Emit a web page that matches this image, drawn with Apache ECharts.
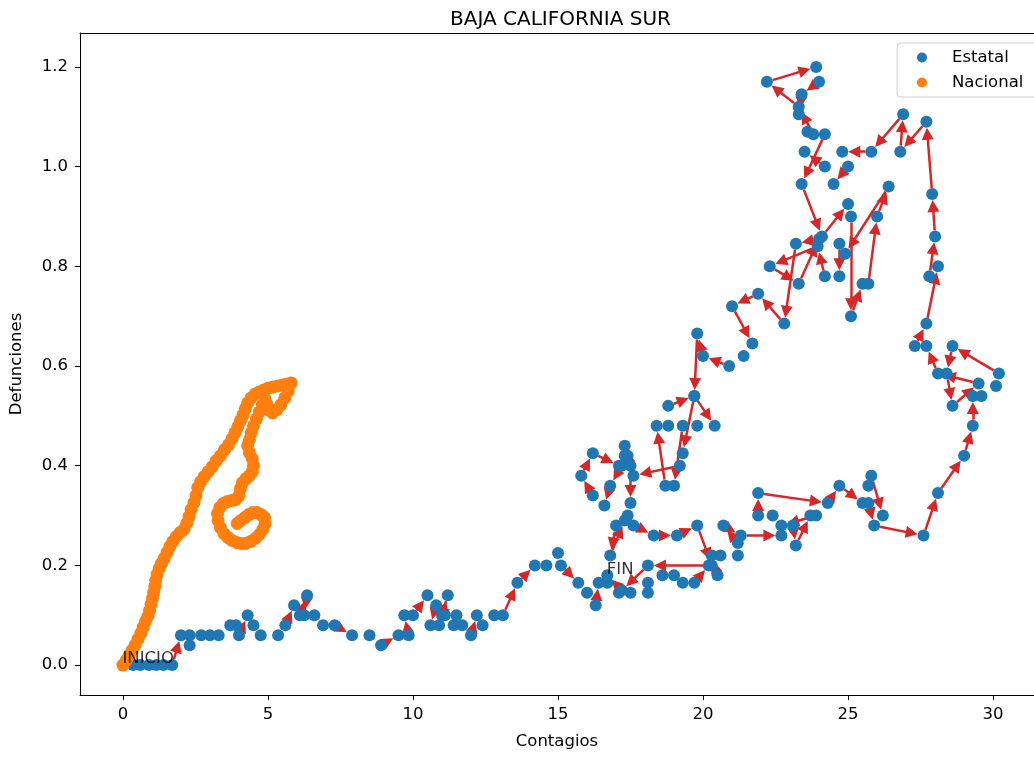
<!DOCTYPE html>
<html>
<head>
<meta charset="utf-8">
<script src="https://cdn.jsdelivr.net/npm/echarts@6/dist/echarts.min.js"></script>
<style>
  html, body { margin: 0; padding: 0; background: #fff; }
  #chart { width: 1034px; height: 757px; }
</style>
</head>
<body>
<div id="chart"></div>
<script>
// trayectoria estatal (contagios, defunciones), en orden de tiempo
const estatal = [
  [0, 0], [0.35, 0], [0.6, 0], [0.9, 0], [1.15, 0], [1.4, 0], [1.7, 0],
  [2.0, 0.06], [2.3, 0.04], [2.3, 0.06], [2.7, 0.06], [3.0, 0.06], [3.3, 0.06], [3.7, 0.08], [3.9, 0.08],
  [4.0, 0.06], [4.3, 0.1], [4.5, 0.08], [4.75, 0.06], [5.35, 0.06], [5.6, 0.08], [5.9, 0.12], [6.1, 0.1],
  [6.35, 0.14], [6.25, 0.1], [6.6, 0.1], [6.9, 0.08], [7.3, 0.08], [7.9, 0.06], [8.5, 0.06], [8.9, 0.04],
  [9.5, 0.06], [9.85, 0.06], [9.7, 0.1], [10.0, 0.1], [10.5, 0.14], [10.8, 0.12], [10.6, 0.08], [11.0, 0.1],
  [11.2, 0.14], [10.9, 0.08], [11.1, 0.1], [11.4, 0.08], [11.5, 0.1], [11.7, 0.08], [12.0, 0.06], [12.2, 0.1],
  [12.4, 0.08], [12.8, 0.1], [13.1, 0.1], [13.6, 0.165], [14.2, 0.2], [14.6, 0.2], [15.0, 0.225], [15.1, 0.2],
  [15.7, 0.165], [16.0, 0.145], [16.3, 0.12], [16.4, 0.165], [16.7, 0.165], [17.1, 0.145], [17.5, 0.145],
  [18.1, 0.145], [18.1, 0.165], [18.6, 0.18], [19.0, 0.18], [19.3, 0.165], [19.7, 0.165], [20.2, 0.2],
  [20.5, 0.18], [20.3, 0.22], [20.6, 0.22], [21.2, 0.22], [21.2, 0.245], [20.7, 0.28], [21.3, 0.26],
  [22.7, 0.26], [23.1, 0.28], [23.2, 0.24], [23.7, 0.3], [23.9, 0.3], [22.7, 0.28], [22.4, 0.3], [21.9, 0.3],
  [21.9, 0.345], [24.3, 0.325], [24.7, 0.36], [25.5, 0.325], [25.7, 0.36], [25.8, 0.38], [26.2, 0.3],
  [25.7, 0.325], [25.9, 0.28], [27.6, 0.26], [28.1, 0.345], [29.0, 0.42], [29.3, 0.48], [29.3, 0.54],
  [29.6, 0.54], [30.1, 0.56], [30.2, 0.585], [28.6, 0.64], [28.4, 0.585], [28.6, 0.52], [29.5, 0.565],
  [28.1, 0.585], [27.7, 0.64], [27.3, 0.64], [27.7, 0.685], [28.1, 0.8], [27.8, 0.78], [28.0, 0.86],
  [27.9, 0.945], [27.7, 1.09], [26.8, 1.03], [26.9, 1.105], [25.8, 1.03], [24.8, 1.03], [25.0, 1.0],
  [24.5, 0.965], [24.2, 1.0], [23.5, 1.03], [23.8, 1.065], [23.3, 1.12], [22.2, 1.17], [23.9, 1.2],
  [24.0, 1.17], [23.4, 1.145], [23.3, 1.105], [23.6, 1.07], [24.2, 1.065], [23.4, 0.965], [24.1, 0.86],
  [25.0, 0.925], [25.1, 0.9], [25.1, 0.7], [25.5, 0.765], [25.7, 0.765], [26.0, 0.9], [26.4, 0.96],
  [24.9, 0.825], [24.7, 0.845], [24.7, 0.78], [24.2, 0.78], [23.95, 0.84], [22.3, 0.8], [23.3, 0.765],
  [24.0, 0.855], [23.2, 0.845], [22.8, 0.685], [21.9, 0.745], [21.0, 0.72], [21.7, 0.645], [21.4, 0.62],
  [20.9, 0.6], [20.0, 0.62], [19.8, 0.665], [19.7, 0.54], [20.4, 0.48], [19.8, 0.48], [19.3, 0.48],
  [19.0, 0.36], [18.7, 0.36], [18.4, 0.48], [18.8, 0.48], [18.8, 0.52], [19.7, 0.54], [19.3, 0.425],
  [19.2, 0.4], [17.6, 0.38], [17.3, 0.44], [17.4, 0.42], [17.2, 0.4], [16.8, 0.36], [16.6, 0.32],
  [16.2, 0.34], [15.8, 0.38], [16.2, 0.425], [17.1, 0.4], [17.3, 0.42], [17.5, 0.4], [17.5, 0.325],
  [17.4, 0.3], [17.6, 0.28], [17.0, 0.28], [16.8, 0.22], [17.3, 0.29], [18.3, 0.26], [19.1, 0.26],
  [19.8, 0.28], [20.3, 0.2], [18.1, 0.2], [17.2, 0.15], [16.7, 0.18]
];

// trayectoria nacional
const nacional = [
  [0.00, 0.000], [0.12, 0.010], [0.22, 0.020], [0.32, 0.030], [0.42, 0.040], [0.52, 0.052], [0.62, 0.064],
  [0.70, 0.076], [0.78, 0.088], [0.86, 0.098], [0.92, 0.110], [0.97, 0.122], [1.02, 0.134], [1.06, 0.146],
  [1.10, 0.158], [1.13, 0.170], [1.18, 0.182], [1.25, 0.194], [1.33, 0.204], [1.42, 0.214], [1.52, 0.226],
  [1.62, 0.238], [1.72, 0.248], [1.84, 0.258], [1.97, 0.266], [2.10, 0.272], [2.20, 0.284], [2.28, 0.298],
  [2.35, 0.312], [2.45, 0.326], [2.52, 0.340], [2.58, 0.356], [2.68, 0.368], [2.80, 0.378], [2.94, 0.388],
  [3.08, 0.398], [3.22, 0.410], [3.36, 0.420], [3.50, 0.432], [3.64, 0.442], [3.76, 0.454], [3.86, 0.466],
  [3.96, 0.478], [4.05, 0.490], [4.14, 0.502], [4.22, 0.514], [4.30, 0.526], [4.42, 0.536], [4.56, 0.544],
  [4.70, 0.548], [4.86, 0.552], [5.02, 0.556], [5.18, 0.558], [5.34, 0.560], [5.50, 0.562], [5.66, 0.564],
  [5.80, 0.566], [5.70, 0.550], [5.58, 0.536], [5.44, 0.522], [5.30, 0.512], [5.16, 0.506], [5.02, 0.512],
  [4.96, 0.524], [4.90, 0.534], [4.80, 0.522], [4.70, 0.508], [4.60, 0.494], [4.50, 0.480], [4.42, 0.466],
  [4.36, 0.452], [4.30, 0.440], [4.36, 0.426], [4.46, 0.414], [4.50, 0.400], [4.46, 0.388], [4.36, 0.380],
  [4.24, 0.374], [4.12, 0.366], [4.05, 0.354], [4.00, 0.340], [3.88, 0.332], [3.74, 0.330], [3.60, 0.328],
  [3.46, 0.324], [3.34, 0.316], [3.26, 0.304], [3.28, 0.290], [3.36, 0.276], [3.48, 0.264], [3.62, 0.256],
  [3.76, 0.250], [3.92, 0.246], [4.08, 0.244], [4.24, 0.244], [4.40, 0.248], [4.56, 0.254], [4.70, 0.262],
  [4.82, 0.272], [4.90, 0.284], [4.88, 0.296], [4.76, 0.302], [4.62, 0.306], [4.48, 0.306], [4.34, 0.302],
  [4.20, 0.296], [4.06, 0.290], [3.94, 0.284]
];

const xTicks = [0, 5, 10, 15, 20, 25, 30];
const yTicks = [0, 0.2, 0.4, 0.6, 0.8, 1.0, 1.2];

const FONT = 'DejaVu Sans';
const chart = echarts.init(document.getElementById('chart'));

chart.setOption({
  animation: false,
  backgroundColor: '#fff',
  title: {
    text: 'BAJA CALIFORNIA SUR',
    left: 445,
    top: 5,
    textStyle: { fontFamily: FONT, fontSize: 20, fontWeight: 'normal', color: '#000' }
  },
  legend: {
    data: ['Estatal', 'Nacional'],
    orient: 'vertical',
    left: 897,
    top: 43,
    icon: 'circle',
    itemWidth: 10,
    itemHeight: 10,
    itemGap: 8,
    padding: [6, 20, 6, 20],
    borderColor: '#d0d0d0',
    borderWidth: 1,
    borderRadius: 4,
    backgroundColor: '#fff',
    textStyle: { fontFamily: FONT, fontSize: 16.5, color: '#000', padding: [0, 0, 0, 20] }
  },
  grid: {
    left: 77,
    right: 0,
    top: 33,
    bottom: 62
  },
  xAxis: [
    {
      type: 'value',
      min: -1.48,
      max: 31.41,
      name: 'Contagios',
      nameLocation: 'middle',
      nameGap: 38,
      nameTextStyle: { fontFamily: FONT, fontSize: 16.5, color: '#000' },
      axisLine: { show: true, onZero: false, lineStyle: { color: '#000', width: 1 } },
      axisTick: { show: true, length: 5, customValues: xTicks, lineStyle: { color: '#000' } },
      axisLabel: { customValues: xTicks, fontFamily: FONT, fontSize: 16.5, color: '#000', margin: 11 },
      splitLine: { show: false }
    },
    {
      // borde superior del área de trazado
      type: 'value',
      position: 'top',
      min: -1.48,
      max: 31.41,
      axisLine: { show: true, onZero: false, lineStyle: { color: '#000', width: 1 } },
      axisTick: { show: false },
      axisLabel: { show: false },
      splitLine: { show: false }
    }
  ],
  yAxis: {
    type: 'value',
    min: -0.06,
    max: 1.268,
    name: 'Defunciones',
    nameLocation: 'middle',
    nameGap: 55,
    nameTextStyle: { fontFamily: FONT, fontSize: 16.5, color: '#000' },
    axisLine: { show: true, onZero: false, lineStyle: { color: '#000', width: 1 } },
    axisTick: { show: true, length: 5, customValues: yTicks, lineStyle: { color: '#000' } },
    axisLabel: {
      customValues: yTicks, fontFamily: FONT, fontSize: 16.5, color: '#000', margin: 12,
      formatter: v => v.toFixed(1)
    },
    splitLine: { show: false }
  },
  series: [
    {
      id: 'arrows',
      type: 'lines',
      coordinateSystem: 'cartesian2d',
      symbol: ['none', 'triangle'],
      symbolSize: 12,
      lineStyle: { color: '#d62728', width: 2.5, opacity: 1, curveness: 0 },
      z: 1,
      silent: true,
      data: []
    },
    {
      name: 'Estatal',
      type: 'scatter',
      data: estatal,
      symbolSize: 12,
      itemStyle: { color: '#1f77b4', opacity: 1 },
      z: 2
    },
    {
      name: 'Nacional',
      type: 'scatter',
      data: nacional,
      symbolSize: 13,
      itemStyle: { color: '#ff7f0e', opacity: 1 },
      z: 3
    },
    {
      type: 'scatter',
      symbolSize: 1,
      itemStyle: { color: 'rgba(0,0,0,0)' },
      z: 5,
      silent: true,
      label: {
        show: true,
        formatter: '{b}',
        position: [0, 3],
        align: 'left',
        verticalAlign: 'bottom',
        fontFamily: FONT,
        fontSize: 16.5,
        color: '#000'
      },
      data: [
        { name: 'INICIO', value: estatal[0] },
        { name: 'FIN', value: estatal[estatal.length - 1] }
      ]
    }
  ]
});

// flechas entre puntos consecutivos, recortadas al borde de cada punto
const R = 6, HEAD = 12;
const arrows = [];
for (let i = 0; i < estatal.length - 1; i++) {
  const a = chart.convertToPixel({ gridIndex: 0 }, estatal[i]);
  const b = chart.convertToPixel({ gridIndex: 0 }, estatal[i + 1]);
  const dx = b[0] - a[0], dy = b[1] - a[1];
  const len = Math.hypot(dx, dy);
  if (len < 2 * R + HEAD / 2 + 2) continue;
  const ux = dx / len, uy = dy / len;
  const s = [a[0] + ux * R, a[1] + uy * R];
  const e = [b[0] - ux * (R + HEAD / 2), b[1] - uy * (R + HEAD / 2)];
  arrows.push({
    coords: [chart.convertFromPixel({ gridIndex: 0 }, s), chart.convertFromPixel({ gridIndex: 0 }, e)]
  });
}
chart.setOption({ series: [{ id: 'arrows', data: arrows }] });
</script>
</body>
</html>
